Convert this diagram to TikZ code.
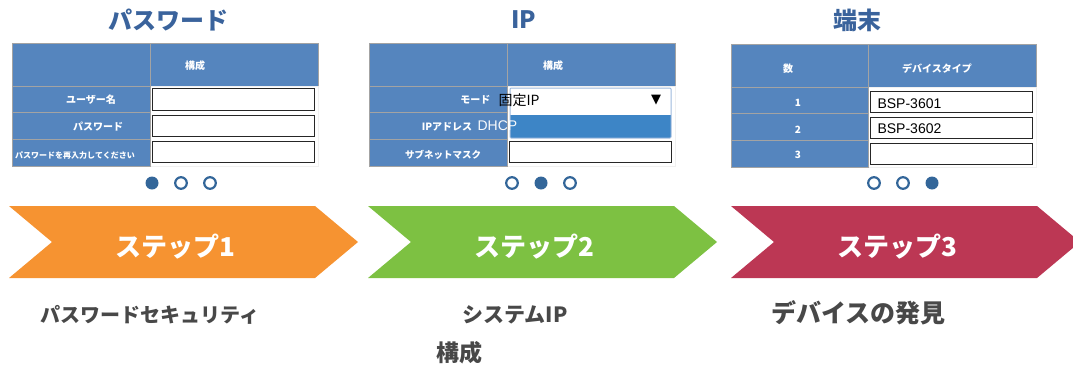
\documentclass[tikz,border=0pt]{standalone}
\usepackage{fontspec}
\setmainfont{Noto Sans CJK JP}
\newfontfamily\arialfont{Liberation Sans}
\newfontfamily\symfont{DejaVu Sans}
\definecolor{cellblue}{HTML}{5585BE}
\definecolor{gridgray}{HTML}{A3A3A3}
\definecolor{titleblue}{HTML}{3A639C}
\definecolor{dotblue}{HTML}{336699}
\definecolor{menublue}{HTML}{3D85C6}
\definecolor{menuedge}{HTML}{9DB9DD}
\definecolor{steporange}{HTML}{F69331}
\definecolor{stepgreen}{HTML}{7DC142}
\definecolor{stepred}{HTML}{BC3754}
\definecolor{captiongray}{HTML}{484848}
\begin{document}
\begin{tikzpicture}[x=1pt,y=-1pt,
    cell/.style={fill=cellblue,draw=gridgray,line width=1pt},
    blank/.style={fill=white,draw=black!6,line width=0.8pt},
    inbox/.style={fill=white,draw=black!85,line width=0.9pt},
    lbl/.style={text=white,font=\bfseries\fontsize{10}{12}\selectfont},
    title/.style={text=titleblue,font=\bfseries\fontsize{24}{28}\selectfont},
    steplbl/.style={text=white,font=\bfseries\fontsize{26}{30}\selectfont},
    caption/.style={text=captiongray,anchor=west,font=\bfseries\fontsize{20}{24}\selectfont},
    entry/.style={anchor=west,font=\arialfont\fontsize{14}{16}\selectfont},
    dotfull/.style={fill=dotblue},
    dotopen/.style={draw=dotblue,line width=2.2pt,fill=white}]
\useasboundingbox (0,0) rectangle (1073,370);
% titles
\node[title] (t1) at (168,20) {パスワード};
\node[title] (t2) at (524,20) {IP};
\node[title] (t3) at (857,20) {端末};
% table 1 : password
\draw[cell] (12,43) rectangle (150,86);
\draw[cell] (150,43) rectangle (318,86);
\draw[blank] (150,86) rectangle (318,166);
\foreach \ya/\yb in {86/112,112/139,139/166}
  \draw[cell] (12,\ya) rectangle (150,\yb);
\draw[inbox] (152,88) rectangle (314,110);
\draw[inbox] (152,115) rectangle (314,136);
\draw[inbox] (152,141) rectangle (314,162);
\node[lbl] (h1) at (195,66) {構成};
\node[lbl] (user) at (91,100) {ユーザー名};
\node[lbl] (pass) at (98,127) {パスワード};
\node[lbl,font=\bfseries\fontsize{8}{10}\selectfont] (again) at (75,155) {パスワードを再入力してください};
% table 2 : ip
\draw[cell] (369,43) rectangle (507,86);
\draw[cell] (507,43) rectangle (675,86);
\draw[blank] (507,86) rectangle (675,166);
\foreach \ya/\yb in {86/112,112/139,139/166}
  \draw[cell] (369,\ya) rectangle (507,\yb);
\fill[white] (510,88) rectangle (671,115);
\fill[menublue] (510,115) rectangle (671,138);
\draw[menuedge,line width=1pt,rounded corners=1pt] (510,88) rectangle (671,138);
\draw[inbox] (509,141) rectangle (671,162);
\node[lbl] (h2) at (553,66) {構成};
\node[lbl,anchor=east] (mode) at (494,100) {モード};
\node[lbl] (addr) at (447,127) {IPアドレス};
\node[lbl,font=\bfseries\fontsize{9.5}{11}\selectfont] (mask) at (443,155) {サブネットマスク};
\node[entry,font=\fontsize{14}{16}\selectfont] (fixed) at (495,100) {固定IP};
\node[font=\symfont\fontsize{13}{15}\selectfont] (arrow) at (656,100) {▼};
\node[entry,text=white!96!cellblue] (dhcp) at (474,126) {DHCP};
% table 3 : devices
\draw[cell] (731,44) rectangle (868,87);
\draw[cell] (868,44) rectangle (1036,87);
\draw[blank] (868,87) rectangle (1036,167);
\foreach \ya/\yb in {87/113,113/140,140/167}
  \draw[cell] (731,\ya) rectangle (868,\yb);
\draw[inbox] (870,91) rectangle (1032,112);
\draw[inbox] (870,117) rectangle (1032,138);
\draw[inbox] (870,143) rectangle (1032,164);
\node[lbl] (num) at (788,69) {数};
\node[lbl] (type) at (937,69) {デバイスタイプ};
\node[lbl] (n1) at (798,103) {1};
\node[lbl] (n2) at (798,130) {2};
\node[lbl] (n3) at (798,155) {3};
\node[entry] (dev1) at (874,104) {BSP-3601};
\node[entry] (dev2) at (874,129) {BSP-3602};
% page dots
\fill[dotfull] (152,183) circle (6.5);
\draw[dotopen] (181,183) circle (5.8);
\draw[dotopen] (210,183) circle (5.8);
\draw[dotopen] (512,183) circle (5.8);
\fill[dotfull] (541,183) circle (6.5);
\draw[dotopen] (570,183) circle (5.8);
\draw[dotopen] (874,183) circle (5.8);
\draw[dotopen] (903,183) circle (5.8);
\fill[dotfull] (932,183) circle (6.5);
% steps
\foreach \x/\c in {9/steporange,368/stepgreen,731/stepred}
  \fill[\c] (\x,206) -- ++(306,0) -- ++(43,36) -- ++(-43,36) -- ++(-306,0) -- ++(43,-36) -- cycle;
\node[steplbl] (s1) at (175,247) {ステップ1};
\node[steplbl] (s2) at (534,247) {ステップ2};
\node[steplbl] (s3) at (897,247) {ステップ3};
% captions
\node[caption] (c1) at (37,315) {パスワードセキュリティ};
\node[caption,font=\bfseries\fontsize{21}{24}\selectfont] (c2) at (459,315) {システムIP};
\node[caption,font=\bfseries\fontsize{23}{26}\selectfont] (c2b) at (433,353) {構成};
\node[caption,font=\bfseries\fontsize{25}{28}\selectfont] (c3) at (768,313) {デバイスの発見};
\end{tikzpicture}
\end{document}
